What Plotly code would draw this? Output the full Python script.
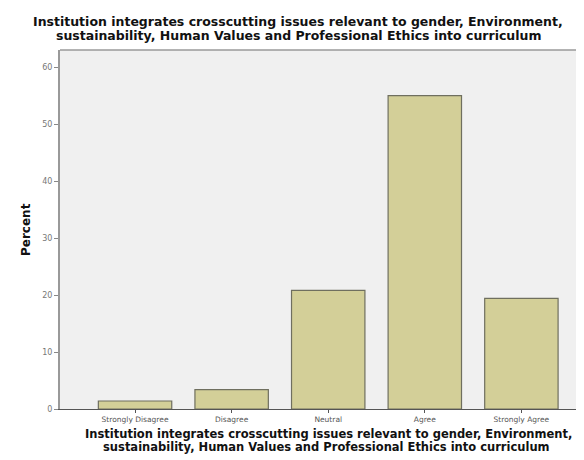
import plotly.graph_objects as go

categories = ["Strongly Disagree", "Disagree", "Neutral", "Agree", "Strongly Agree"]
percent = [1.4, 3.4, 20.8, 55.0, 19.4]
y_ticks = [0, 10, 20, 30, 40, 50, 60]

title_line1 = "Institution integrates crosscutting issues relevant to gender, Environment,"
title_line2 = "sustainability, Human Values and Professional Ethics into curriculum"
y_title = "Percent"

FONT = "DejaVu Sans, Liberation Sans, Arial, sans-serif"
L, R, T, B, W, H = 52, 3, 42, 59, 584, 460
PW, PH = W - L - R, H - T - B


def py(pix):  # pixel y from top -> paper y
    return (H - B - pix) / PH


def px(pix):
    return (pix - L) / PW


fig = go.Figure()
fig.add_trace(go.Bar(
    x=categories, y=percent, width=0.76,
    marker=dict(color="#d3cf98", line=dict(color="#6f6f5f", width=1.2)),
))

annotations = [
    dict(text="<b>" + title_line1 + "</b>", x=px(290), y=py(13), font=dict(size=12.5, color="#111")),
    dict(text="<b>" + title_line2 + "</b>", x=px(290), y=py(28), font=dict(size=12.5, color="#111")),
    dict(text="<b>" + title_line1 + "</b>", x=px(320), y=py(425.5), font=dict(size=11.5, color="#111")),
    dict(text="<b>" + title_line2 + "</b>", x=px(318), y=py(438.5), font=dict(size=11.5, color="#111")),
    dict(text="<b>" + y_title + "</b>", x=px(18), y=py(222), textangle=-90, font=dict(size=12, color="#111")),
]
for a in annotations:
    a.update(xref="paper", yref="paper", xanchor="center", yanchor="middle", showarrow=False,
             font=dict(family=FONT, **a["font"]))

fig.update_layout(
    width=W, height=H,
    margin=dict(l=L, r=R, t=T, b=B, autoexpand=False),
    paper_bgcolor="white", plot_bgcolor="#f0f0f0",
    font=dict(family=FONT, color="#222"),
    showlegend=False,
    annotations=annotations,
    shapes=[
        dict(type="line", xref="paper", yref="paper", x0=0, x1=1, y0=1, y1=1,
             line=dict(color="#9a9a9a", width=1.5)),
        dict(type="line", xref="paper", yref="paper", x0=1, x1=1, y0=0, y1=1,
             line=dict(color="#d8d8d8", width=1)),
    ],
)
fig.update_xaxes(
    range=[-0.777, 4.70], showgrid=False, zeroline=False, automargin=False,
    showline=True, linecolor="#555", linewidth=1.2,
    ticks="outside", ticklen=3, tickcolor="#555",
    tickfont=dict(family=FONT, size=7.5, color="#555"),
    ticklabelstandoff=0,
)
fig.update_yaxes(
    range=[0, 63], tickvals=y_ticks, showgrid=False, zeroline=False, automargin=False,
    showline=True, linecolor="#999", linewidth=2,
    ticks="outside", ticklen=4, tickcolor="#888",
    tickfont=dict(family=FONT, size=8, color="#777"),
)

fig.write_html("out.html")
